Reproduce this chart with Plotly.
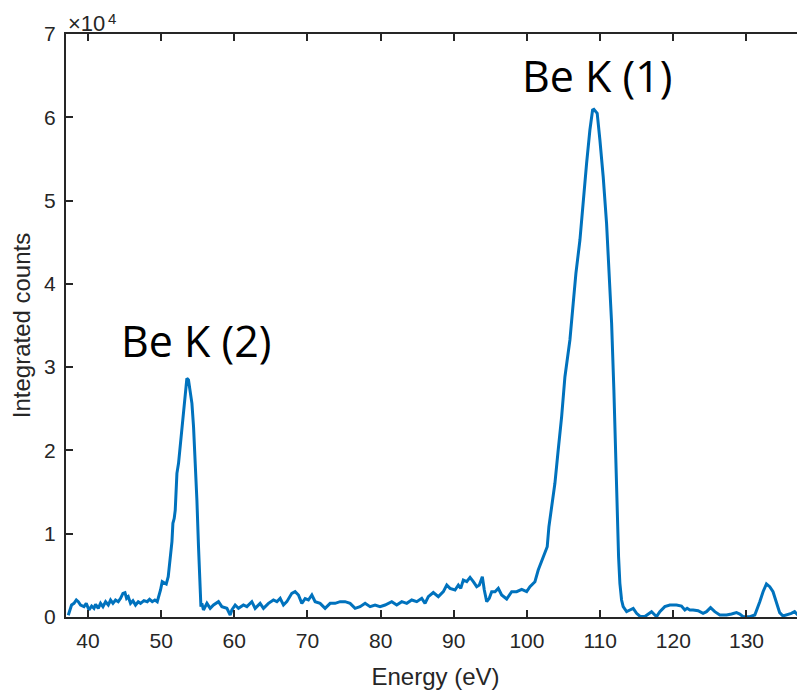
import plotly.graph_objects as go

# Energy (eV) and integrated counts
energy = [
    37.31, 37.49, 37.76, 38.09, 38.41, 38.68, 38.99, 39.46, 39.77, 40.14,
    40.50, 40.82, 41.04, 41.41, 41.72, 42.05, 42.41, 42.78, 43.09, 43.42,
    43.77, 44.14, 44.46, 44.78, 45.06, 45.28, 45.51, 45.82, 46.15, 46.50,
    46.87, 47.19, 47.65, 48.10, 48.42, 48.79, 49.15, 49.47, 49.70, 49.92,
    50.15, 50.46, 50.70, 50.97, 51.12, 51.24, 51.48, 51.61, 51.79, 51.93,
    52.16, 52.38, 52.61, 52.84, 53.06, 53.29, 53.52, 53.74, 53.97, 54.21,
    54.43, 54.66, 54.89, 55.11, 55.34, 55.44, 55.57, 55.79, 56.26, 56.71,
    57.16, 57.84, 58.30, 58.99, 59.44, 59.67, 60.12, 60.57, 61.25, 61.72,
    62.40, 62.85, 63.53, 63.99, 64.67, 65.35, 65.82, 66.27, 66.72, 67.18,
    67.86, 68.31, 68.77, 69.23, 69.68, 70.13, 70.60, 71.05, 71.73, 72.41,
    73.10, 73.78, 74.46, 75.14, 75.83, 76.51, 77.19, 77.88, 78.56, 79.24,
    79.92, 80.61, 81.52, 82.20, 82.89, 83.57, 84.25, 84.94, 85.62, 86.07,
    86.52, 87.20, 87.89, 88.57, 89.04, 89.48, 90.17, 90.62, 90.95, 91.30,
    91.77, 92.22, 92.67, 93.13, 93.49, 93.90, 94.17, 94.50, 94.85, 95.18,
    95.63, 96.08, 96.54, 97.23, 97.91, 98.59, 99.28, 99.96, 100.41, 101.09,
    101.54, 102.01, 102.46, 102.77, 103.00, 103.37, 103.82, 104.27, 104.74, 105.19,
    105.87, 106.32, 106.69, 107.24, 107.69, 108.15, 108.60, 108.97, 109.15, 109.60,
    109.97, 110.42, 110.88, 111.24, 111.57, 111.88, 112.15, 112.33, 112.52, 112.70,
    112.93, 113.15, 113.62, 114.07, 114.52, 114.98, 115.43, 116.11, 116.57, 117.03,
    117.48, 117.71, 118.16, 118.84, 119.53, 120.44, 121.12, 121.58, 121.89, 122.26,
    122.71, 123.39, 124.07, 124.54, 125.09, 125.67, 126.36, 127.27, 127.96, 128.64,
    129.09, 129.54, 130.46, 131.14, 131.82, 132.27, 132.73, 133.18, 133.63, 134.09,
    134.54, 134.99, 135.45, 136.13, 136.58, 137.04, 137.64,
]
counts = [
    200, 840, 1440, 1640, 2040, 1840, 1440, 1240, 1640, 840,
    1320, 1040, 1520, 1040, 1640, 1240, 1840, 1440, 2040, 1640,
    2040, 1840, 2240, 2840, 2920, 2240, 2440, 1640, 1960, 1440,
    1840, 1640, 1960, 1840, 2120, 1840, 2040, 1840, 2440, 3240,
    4240, 4040, 3960, 4840, 6200, 7680, 9040, 11250, 11850, 12840,
    17250, 18450, 20440, 22450, 24450, 26860, 28650, 28450, 27250, 25650,
    22850, 18850, 14050, 8440, 2840, 1240, 1640, 840, 1640, 1040,
    1440, 1840, 1240, 1040, 240, 840, 1440, 1040, 1440, 1240,
    1840, 1040, 1640, 1040, 1640, 2040, 1840, 2240, 1440, 1840,
    2840, 3040, 2640, 1640, 2200, 2040, 2640, 1840, 1640, 1040,
    1640, 1640, 1840, 1840, 1640, 1040, 1240, 1640, 1240, 1440,
    1240, 1440, 1840, 1440, 1840, 1640, 2040, 1840, 2240, 1640,
    2440, 2940, 2440, 3040, 3840, 3440, 3240, 3840, 3440, 4440,
    4240, 4760, 4240, 3640, 3840, 4840, 3240, 1840, 2240, 3040,
    3040, 3440, 2640, 2160, 3040, 3040, 3320, 3040, 3640, 4240,
    5640, 6640, 7640, 8440, 10840, 13240, 16050, 20050, 24050, 28850,
    33260, 37660, 41260, 45260, 50060, 54470, 58470, 60870, 60950, 60470,
    57270, 52860, 47270, 40860, 35260, 27250, 19250, 11250, 7240, 4040,
    2040, 1240, 640, 840, 1040, 440, 100, 50, 360, 640,
    240, 40, 640, 1240, 1440, 1440, 1320, 840, 1040, 840,
    840, 760, 440, 640, 1120, 640, 240, 240, 360, 520,
    360, 40, 40, 240, 1840, 3040, 3960, 3640, 3040, 1840,
    520, 120, 240, 440, 640, 240, 40,
]

x_ticks = [40, 50, 60, 70, 80, 90, 100, 110, 120, 130]
y_ticks = [0, 10000, 20000, 30000, 40000, 50000, 60000, 70000]
y_tick_labels = ["0", "1", "2", "3", "4", "5", "6", "7"]

peak_labels = ["Be K (1)", "Be K (2)"]
peak_label_x = [109.6, 54.8]
peak_label_y = [65000, 33200]

axis_color = "#262626"
font_family = "Liberation Sans, Arial, sans-serif"

fig = go.Figure()
fig.add_trace(go.Scatter(
    x=energy, y=counts, mode="lines",
    line=dict(color="#0072BD", width=3),
    showlegend=False, hoverinfo="skip",
))

for txt, lx, ly in zip(peak_labels, peak_label_x, peak_label_y):
    fig.add_annotation(
        x=lx, y=ly, xref="x", yref="y", text=txt, showarrow=False,
        xanchor="center", yanchor="middle",
        font=dict(family="Open Sans, sans-serif", size=43, color="black"),
    )

# axis exponent "×10^4" (split so the superscript box stays inside the page)
fig.add_annotation(
    x=0, y=1, xref="paper", yref="paper", text="×10",
    showarrow=False, xanchor="left", yanchor="top", xshift=0, yshift=25,
    font=dict(family=font_family, size=22, color=axis_color),
)
fig.add_annotation(
    x=0, y=1, xref="paper", yref="paper", text="4",
    showarrow=False, xanchor="left", yanchor="top", xshift=40, yshift=26,
    font=dict(family=font_family, size=15, color=axis_color),
)

fig.update_layout(
    width=805, height=692,
    margin=dict(l=58, r=8, t=26, b=83),
    paper_bgcolor="white", plot_bgcolor="white",
    font=dict(family=font_family, size=21, color=axis_color),
    xaxis=dict(
        range=[37, 138], tickvals=x_ticks, ticks="inside", ticklen=7,
        tickwidth=2, tickcolor=axis_color, showline=True, linewidth=2,
        linecolor=axis_color, mirror="ticks", showgrid=False, zeroline=False,
        automargin=False, ticklabelstandoff=4,
        title=dict(text="Energy (eV)", font=dict(size=24, color=axis_color), standoff=17),
        tickfont=dict(size=21, color=axis_color),
    ),
    yaxis=dict(
        range=[0, 70000], tickvals=y_ticks, ticktext=y_tick_labels,
        ticks="inside", ticklen=7, tickwidth=2, tickcolor=axis_color,
        showline=True, linewidth=2, linecolor=axis_color, mirror="ticks",
        showgrid=False, zeroline=False, automargin=False, ticklabelstandoff=4,
        title=dict(text="Integrated counts", font=dict(size=24, color=axis_color), standoff=10),
        tickfont=dict(size=21, color=axis_color),
    ),
)

fig.write_html("out.html")
